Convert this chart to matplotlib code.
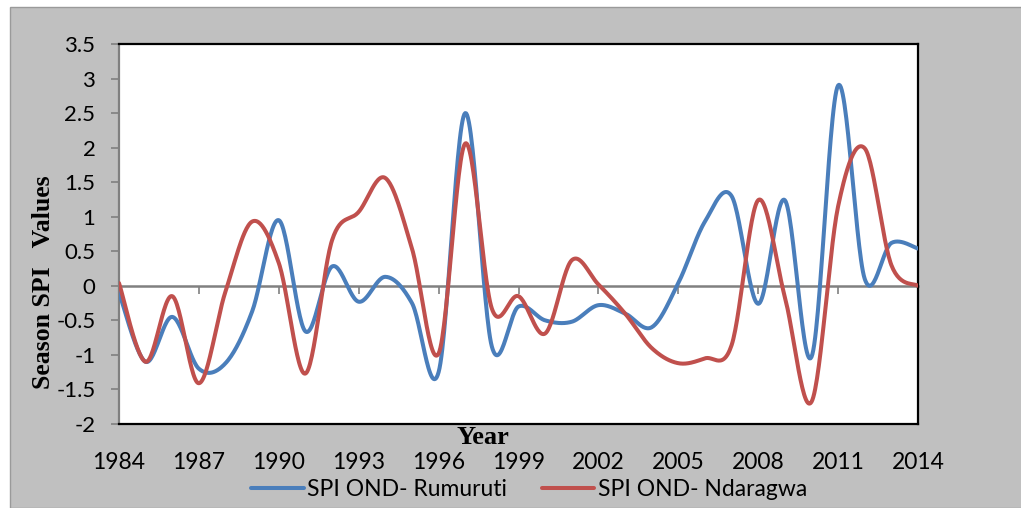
import numpy as np
import matplotlib
matplotlib.use("Agg")
import matplotlib.pyplot as plt
from matplotlib.patches import Rectangle

YEARS = list(range(1984, 2015))

SPI_RUMURUTI = [
    -0.10, -1.10, -0.45, -1.20, -1.12, -0.37, 0.95, -0.66, 0.28, -0.23,
    0.13, -0.25, -1.25, 2.50, -0.88, -0.30, -0.50, -0.52, -0.28, -0.40,
    -0.60, 0.04, 0.93, 1.30, -0.26, 1.24, -1.03, 2.90, 0.10, 0.62, 0.54,
]

SPI_NDARAGWA = [
    0.04, -1.10, -0.15, -1.41, -0.08, 0.93, 0.33, -1.27, 0.66, 1.07,
    1.56, 0.54, -0.98, 2.06, -0.33, -0.15, -0.69, 0.37, 0.02, -0.40,
    -0.90, -1.12, -1.05, -0.86, 1.24, -0.16, -1.68, 1.15, 1.99, 0.30, 0.00,
]

BLUE = "#4A7EBB"
RED = "#C0504D"
GRAY = "#808080"
TICK_FONT = "Lato"
SERIF = "Liberation Serif"


def smooth_curve(x, y, n=30):
    # cubic bezier through each point, like a spreadsheet "smoothed line"
    x = np.asarray(x, dtype=float)
    y = np.asarray(y, dtype=float)
    px = np.concatenate([[x[0]], x, [x[-1]]])
    py = np.concatenate([[y[0]], y, [y[-1]]])
    t = np.linspace(0, 1, n)[:, None]
    xs, ys = [], []
    for i in range(1, len(px) - 2):
        p0 = np.array([px[i], py[i]])
        p3 = np.array([px[i + 1], py[i + 1]])
        c1 = p0 + (p3 - np.array([px[i - 1], py[i - 1]])) / 6.0
        c2 = p3 - (np.array([px[i + 2], py[i + 2]]) - p0) / 6.0
        seg = ((1 - t) ** 3) * p0 + 3 * ((1 - t) ** 2) * t * c1 + 3 * (1 - t) * t ** 2 * c2 + t ** 3 * p3
        xs.append(seg[:, 0])
        ys.append(seg[:, 1])
    return np.concatenate(xs), np.concatenate(ys)


fig = plt.figure(figsize=(10.21, 5.08), dpi=100, facecolor="white")

# grey chart background with a thin white strip top and left
fig.patches.append(Rectangle((10 / 1021, 0), 1.0, 1 - 7 / 508, transform=fig.transFigure,
                             facecolor="#C0C0C0", edgecolor="#9A9A9A", linewidth=1.0, zorder=-10))

ax = fig.add_axes([119 / 1021, 1 - 424 / 508, (918 - 119) / 1021, (424 - 44) / 508])
ax.set_facecolor("white")

bx, by = smooth_curve(YEARS, SPI_RUMURUTI)
rx, ry = smooth_curve(YEARS, SPI_NDARAGWA)
ax.plot(bx, by, color=BLUE, linewidth=2.9, solid_capstyle="round", label="SPI OND- Rumuruti", zorder=3)
ax.plot(rx, ry, color=RED, linewidth=2.9, solid_capstyle="round", label="SPI OND- Ndaragwa", zorder=3)

ax.set_xlim(1984, 2014)
ax.set_ylim(-2, 3.5)
ax.set_yticks(np.arange(-2, 3.51, 0.5))
ax.set_yticklabels([f"{v:g}" for v in np.arange(-2, 3.51, 0.5)], fontname=TICK_FONT, fontsize=16)
ax.tick_params(axis="y", direction="out", length=6, width=1.2, color=GRAY, pad=11)

xt = list(range(1984, 2015, 3))
ax.set_xticks(xt)
ax.set_xticklabels([str(v) for v in xt], fontname=TICK_FONT, fontsize=16.5)
ax.tick_params(axis="x", length=0, pad=20)

for side in ["top", "right", "bottom"]:
    ax.spines[side].set_color("black")
    ax.spines[side].set_linewidth(1.6)
ax.spines["left"].set_color(GRAY)
ax.spines["left"].set_linewidth(1.6)

# horizontal category axis crossing at zero
zero_axis = ax.secondary_xaxis(2 / 5.5)
zero_axis.set_xticks(xt)
zero_axis.tick_params(axis="x", direction="out", length=6, width=1.2, color=GRAY, labelbottom=False)
zero_axis.spines["bottom"].set_color(GRAY)
zero_axis.spines["bottom"].set_linewidth(1.8)
zero_axis.spines["bottom"].set_zorder(2)

fig.text(43 / 1021, 1 - 282 / 508, "Season SPI   Values", rotation=90, ha="center", va="center",
         fontname=SERIF, fontweight="bold", fontsize=18.5)
fig.text(483 / 1021, 1 - 438 / 508, "Year", ha="center", va="center",
         fontname=SERIF, fontweight="bold", fontsize=19)

fig.legend(loc="center", bbox_to_anchor=(529 / 1021, 1 - 490 / 508), ncol=2, frameon=False,
           prop={"family": TICK_FONT, "size": 16.5}, handlelength=2.3, handletextpad=0.15,
           columnspacing=1.5)

fig.savefig("out.png", dpi=100, facecolor=fig.get_facecolor())
